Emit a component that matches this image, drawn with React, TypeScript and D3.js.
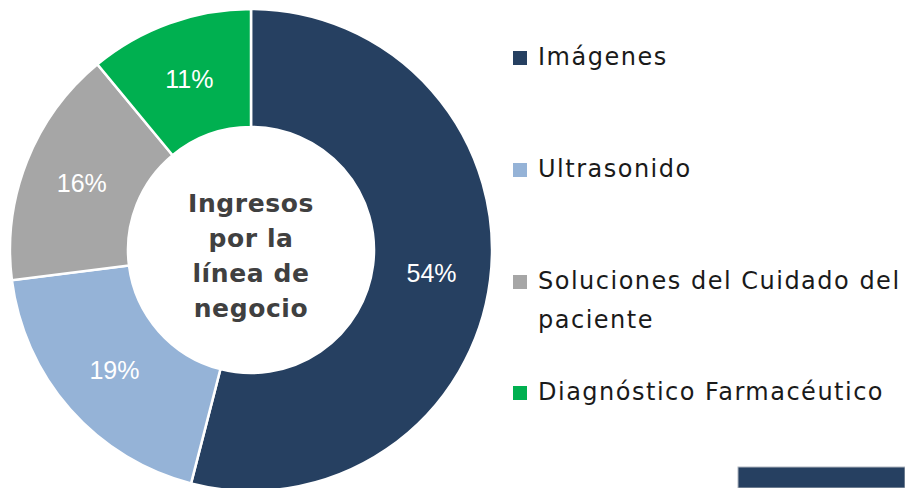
import React from 'react';
import * as d3 from 'd3';

const categories = ['Imágenes', 'Ultrasonido', 'Soluciones del Cuidado del paciente', 'Diagnóstico Farmacéutico'];
const legendLines = [['Imágenes'], ['Ultrasonido'], ['Soluciones del Cuidado del', 'paciente'], ['Diagnóstico Farmacéutico']];
const values = [54, 19, 16, 11];
const colors = ['#264061', '#95B3D7', '#A6A6A6', '#00B050'];
const centerLines = ['Ingresos', 'por la', 'línea de', 'negocio'];

const W = 905;
const H = 488;
const cx = 251;
const cy = 250;
const outerR = 241;
const innerR = 123;

const App = () => {
    const pie = d3.pie<number>().sort(null).value(d => d);
    const arcs = pie(values);
    const arc = d3.arc<d3.PieArcDatum<number>>().innerRadius(innerR).outerRadius(outerR);

    // baseline of first line of each legend row
    const rowBase = [65, 177, 289, 400];

    return (
        <svg width={W} height={H} style={{ position: 'absolute', left: 0, top: 0, background: '#fff' }}>
            <g transform={`translate(${cx},${cy})`}>
                {arcs.map((a, i) => (
                    <path key={i} d={arc(a) || ''} fill={colors[i]} stroke="#fff" strokeWidth={2.5} />
                ))}
                {arcs.map((a, i) => {
                    const [x, y] = arc.centroid(a);
                    return (
                        <text key={'l' + i} x={x} y={y} textAnchor="middle" dominantBaseline="central"
                            fill="#fff" fontFamily="'Liberation Sans', Arial, sans-serif" fontSize={25}>
                            {values[i]}%
                        </text>
                    );
                })}
                {centerLines.map((t, i) => (
                    <text key={'c' + i} x={0} y={-38 + i * 35} textAnchor="middle"
                        fill="#404040" fontFamily="'DejaVu Sans', sans-serif" fontWeight={700} fontSize={25}
                        letterSpacing={0.6}>
                        {t}
                    </text>
                ))}
            </g>
            {categories.map((c, i) => {
                const base = rowBase[i];
                return (
                    <g key={'g' + c}>
                        <rect x={513} y={base - 14} width={14} height={14} fill={colors[i]} />
                        {legendLines[i].map((ln, j) => (
                            <text key={j} x={538} y={base + j * 39} fill="#1a1a1a"
                                fontFamily="'DejaVu Sans', sans-serif" fontSize={24} letterSpacing={1.5}>
                                {ln}
                            </text>
                        ))}
                    </g>
                );
            })}
            <rect x={738} y={467} width={W - 738} height={H - 467} fill="#264061" stroke="#b0b6bf" strokeWidth={1} />
        </svg>
    );
};

export default App;
